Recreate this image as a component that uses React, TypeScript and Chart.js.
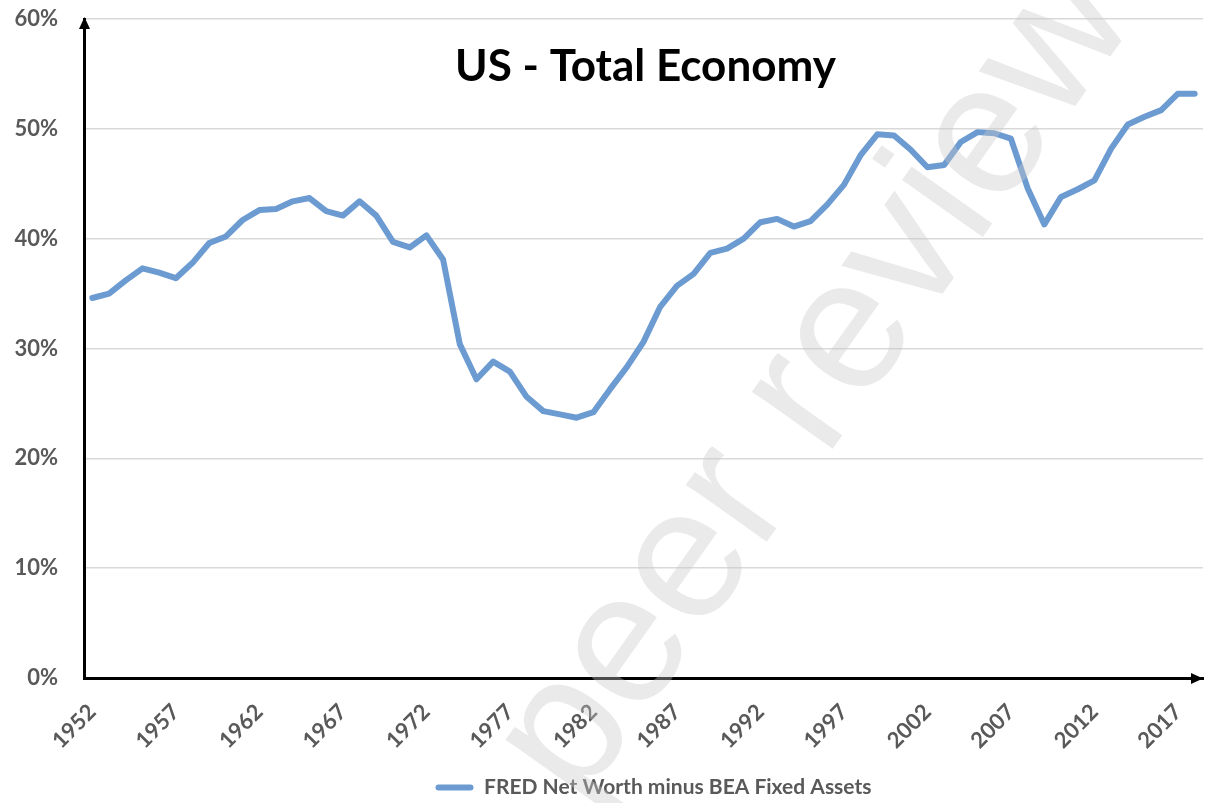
import React, { useEffect, useRef } from 'react';
import { Chart, registerables } from 'chart.js';

Chart.register(...registerables);

const years: string[] = [
  '1952', '1953', '1954', '1955', '1956', '1957', '1958', '1959', '1960', '1961',
  '1962', '1963', '1964', '1965', '1966', '1967', '1968', '1969', '1970', '1971',
  '1972', '1973', '1974', '1975', '1976', '1977', '1978', '1979', '1980', '1981',
  '1982', '1983', '1984', '1985', '1986', '1987', '1988', '1989', '1990', '1991',
  '1992', '1993', '1994', '1995', '1996', '1997', '1998', '1999', '2000', '2001',
  '2002', '2003', '2004', '2005', '2006', '2007', '2008', '2009', '2010', '2011',
  '2012', '2013', '2014', '2015', '2016', '2017', '2018',
];

const netWorthMinusFixedAssets: number[] = [
  34.6, 35.0, 36.2, 37.3, 36.9, 36.4, 37.8, 39.6, 40.2, 41.7,
  42.6, 42.7, 43.4, 43.7, 42.5, 42.1, 43.4, 42.1, 39.7, 39.2,
  40.3, 38.1, 30.4, 27.2, 28.8, 27.9, 25.6, 24.3, 24.0, 23.7,
  24.2, 26.3, 28.3, 30.6, 33.8, 35.7, 36.8, 38.7, 39.1, 40.0,
  41.5, 41.8, 41.1, 41.6, 43.1, 44.9, 47.6, 49.5, 49.4, 48.1,
  46.5, 46.7, 48.8, 49.7, 49.6, 49.1, 44.6, 41.3, 43.8, 44.5,
  45.3, 48.2, 50.4, 51.1, 51.7, 53.2, 53.2,
];

const labeledYears: string[] = [
  '1952', '1957', '1962', '1967', '1972', '1977', '1982',
  '1987', '1992', '1997', '2002', '2007', '2012', '2017',
];

const yMin = 0;
const yMax = 60;
const yStep = 10;

const chartTitle = 'US - Total Economy';
const seriesLabel = 'FRED Net Worth minus BEA Fixed Assets';
const watermarkText = 'peer review';

const LINE_COLOR = '#6C9BD2';
const LABEL_COLOR = '#595959';
const GRID_COLOR = '#D9D9D9';

const decorPlugin = {
  id: 'decor',
  afterLayout(chart: any) {
    const lg = chart.legend;
    if (lg) {
      lg.left += 52;
      lg.right += 52;
      lg.top += 5;
      lg.bottom += 5;
    }
  },
  afterDraw(chart: any) {
    const { ctx, chartArea } = chart;
    const { left, right, top, bottom } = chartArea;
    ctx.save();

    // axis arrowheads
    ctx.fillStyle = '#000';
    const ax = Math.round(left - 1.5) + 1.5;
    ctx.beginPath();
    ctx.moveTo(ax, top - 2);
    ctx.lineTo(ax - 5.5, top + 10);
    ctx.lineTo(ax + 5.5, top + 10);
    ctx.closePath();
    ctx.fill();
    const ay = Math.round(bottom - 1.5) + 1.5;
    ctx.beginPath();
    ctx.moveTo(right, ay);
    ctx.lineTo(right - 12, ay - 5.5);
    ctx.lineTo(right - 12, ay + 5.5);
    ctx.closePath();
    ctx.fill();

    // title inside plot area
    ctx.fillStyle = '#000';
    ctx.font = 'bold 44px Lato';
    ctx.textAlign = 'center';
    ctx.textBaseline = 'alphabetic';
    ctx.fillText(chartTitle, (left + right) / 2 + 2, top + 62);

    // translucent watermark
    ctx.translate(579, 807);
    ctx.rotate((-54.7 * Math.PI) / 180);
    ctx.font = '187px "Liberation Sans"';
    ctx.textAlign = 'left';
    ctx.fillStyle = 'rgba(200,200,200,0.38)';
    ctx.fillText(watermarkText, 0, 0);

    ctx.restore();
  },
};

export default function App() {
  const canvasRef = useRef<HTMLCanvasElement | null>(null);

  useEffect(() => {
    if (!canvasRef.current) return;
    const tickFont = { family: 'Lato', size: 22, weight: 'bold' as const };
    const chart = new Chart(canvasRef.current, {
      type: 'line',
      data: {
        labels: years,
        datasets: [
          {
            label: seriesLabel,
            data: netWorthMinusFixedAssets,
            borderColor: LINE_COLOR,
            backgroundColor: LINE_COLOR,
            borderWidth: 6,
            borderJoinStyle: 'round',
            borderCapStyle: 'round',
            pointRadius: 0,
            pointHoverRadius: 0,
            tension: 0,
            fill: false,
          },
        ],
      },
      options: {
        animation: false,
        responsive: false,
        devicePixelRatio: 1,
        layout: { padding: { top: 19, right: 2, left: 0, bottom: 0 } },
        plugins: {
          title: { display: false },
          tooltip: { enabled: false },
          legend: {
            display: true,
            position: 'bottom',
            labels: {
              boxWidth: 38,
              boxHeight: 6,
              padding: 10,
              color: LABEL_COLOR,
              font: { family: 'Lato', size: 21, weight: 'bold' },
              generateLabels: () => [
                {
                  text: seriesLabel,
                  fillStyle: LINE_COLOR,
                  strokeStyle: LINE_COLOR,
                  lineWidth: 0,
                  borderRadius: 3,
                  hidden: false,
                  datasetIndex: 0,
                  fontColor: LABEL_COLOR,
                },
              ],
            },
          },
        },
        scales: {
          x: {
            type: 'category',
            offset: true,
            grid: { display: true, color: 'rgba(0,0,0,0)', drawTicks: false },
            border: { display: true, color: '#000', width: 3 },
            ticks: {
              autoSkip: false,
              maxRotation: 45,
              minRotation: 45,
              padding: 21,
              color: LABEL_COLOR,
              font: tickFont,
              callback: (_v: any, index: number) => {
                const y = years[index];
                return labeledYears.includes(y) ? y : '';
              },
            },
            afterFit: (scale: any) => {
              scale.height = 84;
              scale.paddingLeft = 0;
              scale.paddingRight = 0;
            },
          },
          y: {
            min: yMin,
            max: yMax,
            grid: { color: GRID_COLOR, lineWidth: 1.5, drawTicks: false },
            border: { display: true, color: '#000', width: 3 },
            ticks: {
              stepSize: yStep,
              padding: 26,
              color: LABEL_COLOR,
              font: tickFont,
              callback: (v: any) => `${v}%`,
            },
            afterFit: (scale: any) => {
              scale.width = 84;
              scale.paddingTop = 0;
              scale.paddingBottom = 0;
            },
          },
        },
      },
      plugins: [decorPlugin],
    });
    return () => chart.destroy();
  }, []);

  return (
    <div style={{ position: 'fixed', left: 0, top: 0, width: 1205, height: 803, background: '#fff', overflow: 'hidden' }}>
      <canvas ref={canvasRef} width={1205} height={803} style={{ display: 'block' }} />
    </div>
  );
}
